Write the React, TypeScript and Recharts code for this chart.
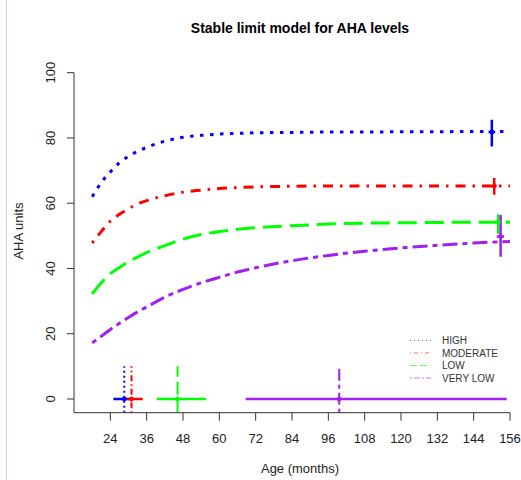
import { ComposedChart, Line, XAxis, YAxis } from "recharts";

// age grid (months) and fitted AHA levels per group
const ageMonths = [18, 21, 24, 27, 30, 33, 36, 42, 48, 54, 60, 66, 72, 84, 96, 108, 120, 132, 144, 156];
const highLevels = [62.0, 66.3, 69.6, 72.4, 74.4, 75.9, 77.1, 79.0, 80.2, 80.8, 81.2, 81.4, 81.6, 81.7, 81.8, 81.8, 81.9, 81.9, 82.0, 82.0];
const moderateLevels = [47.8, 51.3, 54.5, 56.6, 58.3, 59.8, 60.8, 62.3, 63.4, 64.0, 64.5, 64.8, 65.0, 65.2, 65.3, 65.3, 65.3, 65.3, 65.3, 65.3];
const lowLevels = [32.2, 35.6, 38.4, 40.3, 42.1, 43.5, 44.9, 47.0, 49.0, 50.4, 51.3, 52.0, 52.5, 53.1, 53.6, 53.9, 54.0, 54.1, 54.2, 54.2];
const veryLowLevels = [17.2, 19.2, 21.3, 23.2, 25.0, 26.7, 28.2, 31.2, 33.6, 35.6, 37.3, 38.9, 40.2, 42.4, 44.0, 45.3, 46.3, 47.1, 47.8, 48.3];

const groups = ["HIGH", "MODERATE", "LOW", "VERY LOW"];
const groupKeys = ["high", "moderate", "low", "veryLow"];
const groupColors = ["#0000ff", "#ff0000", "#00ff00", "#a020f0"];

// plateau estimates (right side) with intervals
const plateauMonth = [150.0, 150.8, 152.1, 152.9];
const plateauMonthLow = [148.9, 150.2, 151.6, 151.6];
const plateauMonthHigh = [151.1, 151.4, 152.6, 154.0];
const plateauLevel = [81.8, 65.3, 54.2, 49.8];
const plateauLow = [77.4, 62.6, 50.6, 43.6];
const plateauHigh = [85.6, 67.7, 56.6, 56.4];

// half-way ages (bottom) with intervals
const onsetMonth = [28.6, 31.0, 46.2, 99.6];
const onsetLow = [25.0, 29.4, 39.3, 68.7];
const onsetHigh = [31.5, 34.7, 55.6, 154.9];
const onsetLevel = 0;
const onsetGuide = [-4.2, 10];

const xTicks = [24, 36, 48, 60, 72, 84, 96, 108, 120, 132, 144, 156];
const yTicks = [0, 20, 40, 60, 80, 100];

const curveDash = ["3.5 6.5", "2.5 7 10 7", "19 8", "5 5 15 5"];
const guideDash = ["2 3", "1.5 3 6 3", "13 5", "4 4 12 4"];
const legendDash = ["1 3", "1 3 4 3", "7 3", "2 2 6 2"];

const FONT = "'Liberation Sans', Arial, Helvetica, sans-serif";

const table = ageMonths.map((m, i) => ({
  month: m,
  high: highLevels[i],
  moderate: moderateLevels[i],
  low: lowLevels[i],
  veryLow: veryLowLevels[i],
}));

function XTick(props: any) {
  const { x, y, payload } = props;
  return (
    <text x={x} y={y + 20} textAnchor="middle" fontSize={13} fontFamily={FONT} fill="#222">
      {payload.value}
    </text>
  );
}

function YTick(props: any) {
  const { x, y, payload } = props;
  return (
    <text
      transform={`translate(${x - 10},${y}) rotate(-90)`}
      textAnchor="middle"
      fontSize={13}
      fontFamily={FONT}
      fill="#222"
    >
      {payload.value}
    </text>
  );
}

function seg(x1: number, y1: number, x2: number, y2: number) {
  return [
    { month: x1, v: y1 },
    { month: x2, v: y2 },
  ];
}

export default function App() {
  return (
    <div style={{ position: "absolute", left: 0, top: 0, width: 521, height: 480, background: "#fff", overflow: "hidden" }}>
      <div style={{ position: "absolute", left: 6, top: 0, width: 1, height: 480, background: "#bcd4ee" }} />
      <ComposedChart
        width={521}
        height={480}
        data={table}
        margin={{ top: 72.7, right: 11, bottom: 37.3, left: 8 }}
      >
        <XAxis
          type="number"
          dataKey="month"
          domain={[12, 156]}
          ticks={xTicks}
          interval={0}
          allowDataOverflow
          tickSize={8}
          height={30}
          stroke="#333"
          tick={<XTick />}
        />
        <YAxis
          type="number"
          domain={[-4.2, 100]}
          ticks={yTicks}
          interval={0}
          allowDataOverflow
          tickSize={7}
          width={66}
          stroke="#333"
          tick={<YTick />}
        />
        {groupKeys.map((k, i) => (
          <Line
            key={k}
            dataKey={k}
            type="monotone"
            stroke={groupColors[i]}
            strokeWidth={3}
            strokeDasharray={curveDash[i]}
            dot={false}
            isAnimationActive={false}
          />
        ))}
        {groups.map((g, i) => (
          <Line
            key={`pv-${g}`}
            data={seg(plateauMonth[i], plateauLow[i], plateauMonth[i], plateauHigh[i])}
            dataKey="v"
            stroke={groupColors[i]}
            strokeWidth={2.5}
            dot={false}
            isAnimationActive={false}
          />
        ))}
        {groups.map((g, i) => (
          <Line
            key={`ph-${g}`}
            data={seg(plateauMonthLow[i], plateauLevel[i], plateauMonthHigh[i], plateauLevel[i])}
            dataKey="v"
            stroke={groupColors[i]}
            strokeWidth={2.5}
            dot={false}
            isAnimationActive={false}
          />
        ))}
        {groups.map((g, i) => (
          <Line
            key={`og-${g}`}
            data={seg(onsetMonth[i], onsetGuide[0], onsetMonth[i], onsetGuide[1])}
            dataKey="v"
            stroke={groupColors[i]}
            strokeWidth={2}
            strokeDasharray={guideDash[i]}
            dot={false}
            isAnimationActive={false}
          />
        ))}
        {groups.map((g, i) => (
          <Line
            key={`oh-${g}`}
            data={seg(onsetLow[i], onsetLevel, onsetHigh[i], onsetLevel)}
            dataKey="v"
            stroke={groupColors[i]}
            strokeWidth={2.5}
            dot={false}
            isAnimationActive={false}
          />
        ))}
        {groups.map((g, i) => (
          <Line
            key={`oc-${g}`}
            data={[{ month: onsetMonth[i], v: onsetLevel }]}
            dataKey="v"
            stroke={groupColors[i]}
            dot={{ r: 2, fill: groupColors[i], stroke: groupColors[i], strokeWidth: 1 }}
            isAnimationActive={false}
          />
        ))}
        {groups.map((g, i) => (
          <Line
            key={`pc-${g}`}
            data={[{ month: plateauMonth[i], v: plateauLevel[i] }]}
            dataKey="v"
            stroke={groupColors[i]}
            dot={{ r: 2, fill: groupColors[i], stroke: groupColors[i], strokeWidth: 1 }}
            isAnimationActive={false}
          />
        ))}
      </ComposedChart>
      <svg
        width={521}
        height={480}
        style={{ position: "absolute", left: 0, top: 0, pointerEvents: "none" }}
        fontFamily={FONT}
      >
        <text x={300} y={33} textAnchor="middle" fontSize={14} fontWeight="bold" fill="#000">
          Stable limit model for AHA levels
        </text>
        <text x={300} y={473} textAnchor="middle" fontSize={13} fill="#222">
          Age (months)
        </text>
        <text transform="translate(23,231) rotate(-90)" textAnchor="middle" fontSize={13} fill="#222">
          AHA units
        </text>
        {groups.map((g, i) => (
          <g key={g}>
            <line
              x1={410}
              x2={431}
              y1={340.5 + i * 12.5}
              y2={340.5 + i * 12.5}
              stroke={groupColors[i]}
              strokeOpacity={0.6}
              strokeWidth={1.2}
              strokeDasharray={legendDash[i]}
            />
            <text x={442} y={344.2 + i * 12.5} fontSize={10} fill="#333">
              {g}
            </text>
          </g>
        ))}
      </svg>
    </div>
  );
}
